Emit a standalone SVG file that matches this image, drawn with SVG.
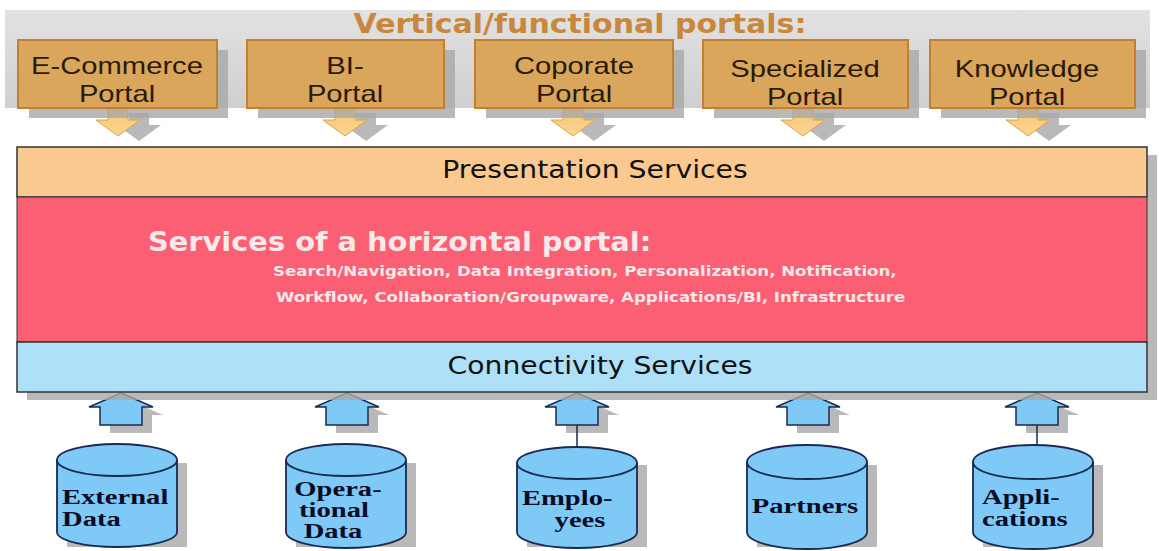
<svg xmlns="http://www.w3.org/2000/svg" width="1159" height="551" viewBox="0 0 1159 551">
<defs>
<style>
.portal{fill:#d9a65c;stroke:#c47f2c;stroke-width:2}
.shadow{fill:#a8a8a8;opacity:0.8}
.ptext{font-family:"Liberation Sans",Arial,sans-serif;font-size:23px;fill:#2a1a0a;text-anchor:middle}
.down{fill:url(#downg);stroke:#e0a040;stroke-width:1}
.up{fill:#7ec9f5;stroke:#1a2a50;stroke-width:1.5}
.cyl{fill:#7ec9f5;stroke:#1a2a50;stroke-width:1.8}
.ctext{font-family:"Liberation Serif","Times New Roman",serif;font-weight:bold;font-size:20px;fill:#0a0c26}
.bartext{font-family:"DejaVu Sans",Verdana,sans-serif;font-size:25px;fill:#111;text-anchor:middle}
.wtext{font-family:"DejaVu Sans",Verdana,sans-serif;font-weight:bold;fill:#fbe8e8}
</style>
<linearGradient id="downg" x1="0" y1="0" x2="0" y2="1">
<stop offset="0" stop-color="#f7c878"/>
<stop offset="1" stop-color="#fbd590"/>
</linearGradient>
<linearGradient id="bandg" x1="0" y1="0" x2="0" y2="1">
<stop offset="0" stop-color="#e2e2e2"/>
<stop offset="1" stop-color="#cfcfcf"/>
</linearGradient>
</defs>
<rect width="1159" height="551" fill="#ffffff"/>
<g id="band">
<rect x="5" y="10" width="1145" height="98" fill="url(#bandg)"/>
<text transform="translate(580,33) scale(1.11,1)" font-family="DejaVu Sans,Verdana,sans-serif" font-weight="bold" font-size="27" fill="#c8873a" text-anchor="middle">Vertical/functional portals:</text>
</g>
<g id="connectors">
<g id="down-arrows">
<path class="shadow" d="M129,113 h20 v12 h12 l-22,16 l-22,-16 h12z"/>
<path class="down" d="M108,108 h20 v12 h12 l-22,16 l-22,-16 h12z"/>
<path class="shadow" d="M356,113 h20 v12 h12 l-22,16 l-22,-16 h12z"/>
<path class="down" d="M335,108 h20 v12 h12 l-22,16 l-22,-16 h12z"/>
<path class="shadow" d="M584,113 h20 v12 h12 l-22,16 l-22,-16 h12z"/>
<path class="down" d="M563,108 h20 v12 h12 l-22,16 l-22,-16 h12z"/>
<path class="shadow" d="M814,113 h20 v12 h12 l-22,16 l-22,-16 h12z"/>
<path class="down" d="M793,108 h20 v12 h12 l-22,16 l-22,-16 h12z"/>
<path class="shadow" d="M1039,113 h20 v12 h12 l-22,16 l-22,-16 h12z"/>
<path class="down" d="M1018,108 h20 v12 h12 l-22,16 l-22,-16 h12z"/>
</g>
<g id="up-arrows">
<path class="shadow" d="M131,401 l32,14 h-11 v18 h-42 v-18 h-11z"/>
<path class="up" d="M121,393 l32,14 h-11 v18 h-42 v-18 h-11z"/>
<path class="shadow" d="M357,401 l32,14 h-11 v18 h-42 v-18 h-11z"/>
<path class="up" d="M347,393 l32,14 h-11 v18 h-42 v-18 h-11z"/>
<path class="shadow" d="M587,401 l32,14 h-11 v18 h-42 v-18 h-11z"/>
<path class="up" d="M577,393 l32,14 h-11 v18 h-42 v-18 h-11z"/>
<path class="shadow" d="M818,401 l32,14 h-11 v18 h-42 v-18 h-11z"/>
<path class="up" d="M808,393 l32,14 h-11 v18 h-42 v-18 h-11z"/>
<path class="shadow" d="M1047,401 l32,14 h-11 v18 h-42 v-18 h-11z"/>
<path class="up" d="M1037,393 l32,14 h-11 v18 h-42 v-18 h-11z"/>
<line x1="577" y1="425" x2="577" y2="447" stroke="#1a2a50" stroke-width="1.5"/>
<line x1="1037" y1="425" x2="1037" y2="445" stroke="#1a2a50" stroke-width="1.5"/>
</g>
</g>
<g id="portal-ecommerce">
<rect class="shadow" x="29" y="50" width="199" height="68"/>
<rect class="portal" x="18" y="40" width="199" height="68"/>
<text class="ptext" transform="translate(117,74) scale(1.27,1)">E-Commerce</text>
<text class="ptext" transform="translate(117,102) scale(1.27,1)">Portal</text>
</g>
<g id="portal-bi">
<rect class="shadow" x="258" y="50" width="197" height="68"/>
<rect class="portal" x="247" y="40" width="197" height="68"/>
<text class="ptext" transform="translate(345,74) scale(1.27,1)">BI-</text>
<text class="ptext" transform="translate(345,102) scale(1.27,1)">Portal</text>
</g>
<g id="portal-coporate">
<rect class="shadow" x="486" y="50" width="198" height="68"/>
<rect class="portal" x="475" y="40" width="198" height="68"/>
<text class="ptext" transform="translate(574,74) scale(1.27,1)">Coporate</text>
<text class="ptext" transform="translate(574,102) scale(1.27,1)">Portal</text>
</g>
<g id="portal-specialized">
<rect class="shadow" x="714" y="50" width="205" height="68"/>
<rect class="portal" x="703" y="40" width="205" height="68"/>
<text class="ptext" transform="translate(805,77) scale(1.27,1)">Specialized</text>
<text class="ptext" transform="translate(805,105) scale(1.27,1)">Portal</text>
</g>
<g id="portal-knowledge">
<rect class="shadow" x="941" y="50" width="205" height="68"/>
<rect class="portal" x="930" y="40" width="205" height="68"/>
<text class="ptext" transform="translate(1027,77) scale(1.27,1)">Knowledge</text>
<text class="ptext" transform="translate(1027,105) scale(1.27,1)">Portal</text>
</g>
<g id="stack-shadow">
<rect class="shadow" x="27" y="155" width="1130" height="245"/>
</g>
<g id="presentation">
<rect x="17" y="147" width="1130" height="50" fill="#f9c98f" stroke="#333" stroke-width="1.5"/>
<text class="bartext" transform="translate(595,178) scale(1.13,1)">Presentation Services</text>
</g>
<g id="horizontal">
<rect x="17" y="197" width="1130" height="145" fill="#fa5f74" stroke="#333" stroke-width="1"/>
<text class="wtext" transform="translate(148,251) scale(1.11,1)" font-size="26">Services of a horizontal portal:</text>
<text class="wtext" transform="translate(273,276) scale(1.23,1)" font-size="13.5">Search/Navigation, Data Integration, Personalization, Notification,</text>
<text class="wtext" transform="translate(276,302) scale(1.23,1)" font-size="13.5">Workflow, Collaboration/Groupware, Applications/BI, Infrastructure</text>
</g>
<g id="connectivity">
<rect x="17" y="342" width="1130" height="50" fill="#aee0f8" stroke="#333" stroke-width="1.5"/>
<text class="bartext" transform="translate(600,374) scale(1.13,1)">Connectivity Services</text>
</g>
<g id="db-external">
<path class="shadow" d="M67,463 v84 h120 v-84z"/>
<path class="cyl" d="M57,460 v72 a60,15 0 0 0 120,0 v-72"/>
<ellipse class="cyl" cx="117" cy="460" rx="60" ry="16"/>
<text class="ctext" transform="translate(62,504) scale(1.43,1)">External</text>
<text class="ctext" transform="translate(62,526) scale(1.43,1)">Data</text>
</g>
<g id="db-operational">
<path class="shadow" d="M296,463 v84 h120 v-84z"/>
<path class="cyl" d="M286,460 v72 a60,16 0 0 0 120,0 v-72"/>
<ellipse class="cyl" cx="346" cy="460" rx="60" ry="16"/>
<text class="ctext" transform="translate(338,496) scale(1.43,1)" text-anchor="middle">Opera-</text>
<text class="ctext" transform="translate(334,517) scale(1.43,1)" text-anchor="middle">tional</text>
<text class="ctext" transform="translate(333,538) scale(1.43,1)" text-anchor="middle">Data</text>
</g>
<g id="db-employees">
<path class="shadow" d="M527,465 v82 h120 v-82z"/>
<path class="cyl" d="M517,463 v69 a60,16 0 0 0 120,0 v-69"/>
<ellipse class="cyl" cx="577" cy="463" rx="60" ry="16"/>
<text class="ctext" transform="translate(522,505) scale(1.43,1)">Emplo-</text>
<text class="ctext" transform="translate(580,527) scale(1.43,1)" text-anchor="middle">yees</text>
</g>
<g id="db-partners">
<path class="shadow" d="M757,465 v82 h120 v-82z"/>
<path class="cyl" d="M747,462 v70 a60,17 0 0 0 120,0 v-70"/>
<ellipse class="cyl" cx="807" cy="462" rx="60" ry="17"/>
<text class="ctext" transform="translate(805,513) scale(1.43,1)" text-anchor="middle">Partners</text>
</g>
<g id="db-applications">
<path class="shadow" d="M983,465 v82 h120 v-82z"/>
<path class="cyl" d="M973,462 v70 a60,17 0 0 0 120,0 v-70"/>
<ellipse class="cyl" cx="1033" cy="462" rx="60" ry="17"/>
<text class="ctext" transform="translate(982,504) scale(1.43,1)">Appli-</text>
<text class="ctext" transform="translate(982,526) scale(1.43,1)">cations</text>
</g>
</svg>
